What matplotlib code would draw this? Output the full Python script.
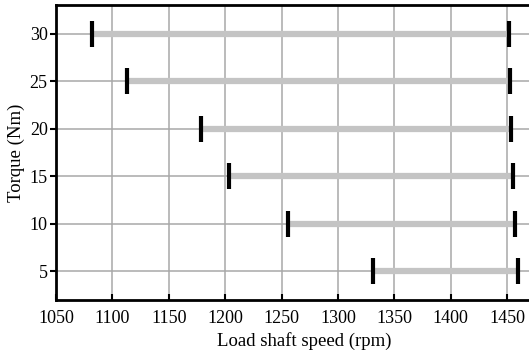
import matplotlib.pyplot as plt

plt.rcParams.update({
    'font.family': 'Liberation Serif',
    'font.size': 13,
})

# torque levels and speed range (start, end)
torque = [30, 25, 20, 15, 10, 5]
speed_start = [1082, 1113, 1179, 1203, 1256, 1331]
speed_end = [1452, 1453, 1454, 1455, 1457, 1460]

fig = plt.figure(figsize=(5.29, 3.58), dpi=100)
# the axes run past the right edge of the figure, as in the original
ax = fig.add_axes([0.106, 0.162, 0.9376, 0.824])

ax.set_xlim(1050, 1490)
ax.set_ylim(2, 33)
ax.set_xticks(range(1050, 1451, 50))
ax.set_yticks([5, 10, 15, 20, 25, 30])

ax.grid(True, color='#a8a8a8', linewidth=1.1, zorder=0)
ax.set_axisbelow(True)

ax.hlines(torque, speed_start, speed_end, color='#c4c4c4', linewidth=4.5, zorder=2)
ax.plot(speed_start, torque, linestyle='none', marker='|', color='black',
        markersize=19, markeredgewidth=3, zorder=3)
ax.plot(speed_end, torque, linestyle='none', marker='|', color='black',
        markersize=19, markeredgewidth=3, zorder=3)

for s in ['left', 'bottom', 'top']:
    ax.spines[s].set_linewidth(2)
ax.spines['right'].set_visible(False)
ax.tick_params(axis='x', direction='in', length=4, width=1.5, pad=7)
ax.tick_params(axis='y', direction='out', length=4, width=1.5, pad=2)

ax.set_xlabel('Load shaft speed (rpm)', fontsize=13.5, labelpad=4)
ax.set_ylabel('Torque (Nm)', fontsize=13.5, labelpad=3)

fig.savefig('out.png', dpi=100)
